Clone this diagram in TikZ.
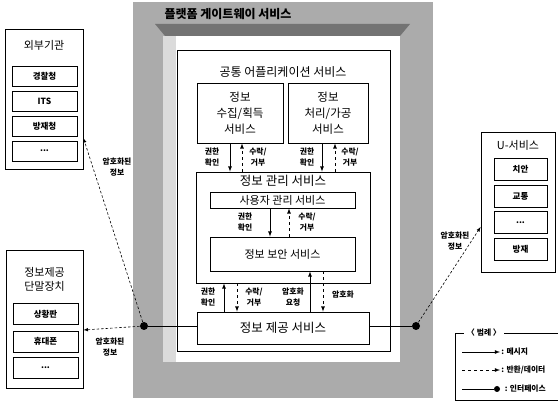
\documentclass[tikz,border=0pt]{standalone}
\usepackage{fontspec}
\setmainfont{Noto Sans CJK KR}
\usetikzlibrary{arrows}

\begin{document}
\begin{tikzpicture}[x=1pt,y=-1pt,line width=0.8pt,
  box/.style={draw,inner sep=0pt},
  ttl/.style={font=\fontsize{12}{16}\selectfont,align=center},
  lbl/.style={font=\bfseries\fontsize{7.8}{11}\selectfont,align=center,inner sep=1pt},
  itm/.style={draw,inner sep=0pt,minimum width=65pt,minimum height=20pt,font=\bfseries\fontsize{8.5}{10}\selectfont},
  msg/.style={-latex},
  ret/.style={-latex,dashed},
  far/.style={-latex,line width=0.6pt,dash pattern=on 2.5pt off 2pt},
  dot/.style={circle,fill,inner sep=0pt,minimum size=8pt}]
  \useasboundingbox (0,0) rectangle (558,401);
  % gateway frame
  \fill[black!33] (133,2) rectangle (433,398);
  \fill[white] (163,36) rectangle (400,362);
  \fill[black!14] (163,36) rectangle (176,362);
  \fill[black!55] (155,24) -- (410,24) -- (400,36) -- (165,36) -- cycle;
  \node[font=\bfseries\fontsize{12}{14}\selectfont] (pgw) at (228,14) {플랫폼 게이트웨이 서비스};

  % common application services
  \node[box,minimum width=213pt,minimum height=301pt] (app) at (283.5,200.5) {};
  \node[ttl] (appt) at (283,72) {공통 어플리케이션 서비스};
  \node[box,ttl,minimum width=86pt,minimum height=60pt,font=\fontsize{11.5}{16}\selectfont] (collect) at (240,113) {정보\\수집/획득\\서비스};
  \node[box,ttl,minimum width=80pt,minimum height=60pt,font=\fontsize{11.5}{16}\selectfont] (process) at (328,113) {정보\\처리/가공\\서비스};
  \node[box,minimum width=174pt,minimum height=111pt] (mgmt) at (283,227.5) {};
  \node[ttl,font=\fontsize{12.5}{14}\selectfont] (mgmtt) at (283,181) {정보 관리 서비스};
  \node[box,minimum width=145pt,minimum height=16pt,font=\fontsize{11}{12}\selectfont] (user) at (282.5,200) {사용자 관리 서비스};
  \node[box,minimum width=145pt,minimum height=34pt,font=\fontsize{11}{12}\selectfont] (secure) at (282.5,254) {정보 보안 서비스};
  \node[box,minimum width=172pt,minimum height=32pt,font=\fontsize{12.5}{14}\selectfont] (provide) at (283,328) {정보 제공 서비스};

  % arrow columns
  \coordinate (ca) at (230,0); \coordinate (cb) at (242,0);
  \coordinate (pa) at (322,0); \coordinate (pb) at (335,0);
  \coordinate (ua) at (270,0); \coordinate (ub) at (289,0);
  \coordinate (ga) at (224,0); \coordinate (gb) at (237,0);
  \coordinate (sa) at (310,0); \coordinate (sb) at (323,0);
  \path[msg]
    (collect.south -| ca) edge (mgmt.north -| ca)
    (process.south -| pa) edge (mgmt.north -| pa)
    (user.south -| ua) edge (secure.north -| ua)
    (provide.north -| ga) edge (mgmt.south -| ga)
    (provide.north -| sa) edge (secure.south -| sa);
  \path[ret]
    (mgmt.north -| cb) edge (collect.south -| cb)
    (mgmt.north -| pb) edge (process.south -| pb)
    (secure.north -| ub) edge (user.south -| ub)
    (mgmt.south -| gb) edge (provide.north -| gb)
    (secure.south -| sb) edge (provide.north -| sb);
  \node[lbl] (l1) at (212,157) {권한\\확인};
  \node[lbl] (l2) at (258,157) {수락/\\거부};
  \node[lbl] (l3) at (307,157) {권한\\확인};
  \node[lbl] (l4) at (350,157) {수락/\\거부};
  \node[lbl] (l5) at (245,222) {권한\\확인};
  \node[lbl] (l6) at (307,222) {수락/\\거부};
  \node[lbl] (l7) at (208,297) {권한\\확인};
  \node[lbl] (l8) at (254,297) {수락/\\거부};
  \node[lbl] (l9) at (293,297) {암호화\\요청};
  \node[lbl] (l10) at (343,295) {암호화};

  % external agencies
  \node[box,minimum width=78pt,minimum height=140pt] (ext) at (44,99) {};
  \node[ttl,font=\fontsize{11}{14}\selectfont] (extt) at (44,45) {외부기관};
  \node[itm] (police) at (44.5,76) {경찰청};
  \node[itm] (its) at (44.5,101) {ITS};
  \node[itm] (nema) at (44.5,126) {방재청};
  \node[itm] (extx) at (44.5,151) {...};

  % terminals
  \node[box,minimum width=77pt,minimum height=138pt] (term) at (44.5,319) {};
  \node[ttl,font=\fontsize{11}{14}\selectfont] (termt) at (44.5,279) {정보제공\\단말장치};
  \node[itm,minimum height=21pt] (board) at (45.5,314) {상황판};
  \node[itm,minimum height=21pt] (phone) at (45.5,341.5) {휴대폰};
  \node[itm,minimum height=21pt] (termx) at (45.5,367.5) {...};

  % u-services
  \node[box,minimum width=74pt,minimum height=140pt] (usvc) at (518,202) {};
  \node[ttl,font=\fontsize{11}{14}\selectfont] (usvct) at (518,145) {U-서비스};
  \node[itm,minimum width=53pt,minimum height=22pt] (safety) at (520.5,169) {치안};
  \node[itm,minimum width=53pt,minimum height=22pt] (traffic) at (520.5,196) {교통};
  \node[itm,minimum width=53pt,minimum height=22pt] (usvcx) at (520.5,222.5) {...};
  \node[itm,minimum width=53pt,minimum height=22pt] (disaster) at (520.5,249.5) {방재};

  % interfaces
  \node[dot] (ldot) at (144,326) {};
  \node[dot] (rdot) at (416,326) {};
  \draw (ldot) -- (ldot -| provide.west);
  \draw (rdot) -- (rdot -| provide.east);
  \draw[far] (ldot) -- ([yshift=-39pt]ext.east);
  \draw[far] (ldot) -- ([yshift=-11pt]term.east);
  \draw[far] (rdot) -- ([yshift=-25pt]usvc.west);
  \node[lbl] (e1) at (117,167) {암호화된\\정보};
  \node[lbl] (e2) at (110,347) {암호화된\\정보};
  \node[lbl] (e3) at (455,241) {암호화된\\정보};

  % legend
  \draw (558,333) -- (455,333) -- (455,400) -- (558,400);
  \node[lbl,fill=white,inner sep=3pt] (lgd) at (484,333) {〈 범례 〉};
  \coordinate (m1) at (462,352); \coordinate (m2) at (500,352);
  \coordinate (r1) at (462,370); \coordinate (r2) at (500,370);
  \coordinate (i1) at (462,389);
  \node[dot,minimum size=6pt] (i2) at (497,389) {};
  \draw[msg] (m1) -- (m2);
  \draw[ret] (r1) -- (r2);
  \draw (i1) -- (i2);
  \node[lbl,anchor=west] (mt) at (m2) {: 메시지};
  \node[lbl,anchor=west] (rt) at (r2) {: 반환/데이터};
  \node[lbl,anchor=west] (it) at ([xshift=3pt]i2.east) {: 인터페이스};
\end{tikzpicture}
\end{document}
